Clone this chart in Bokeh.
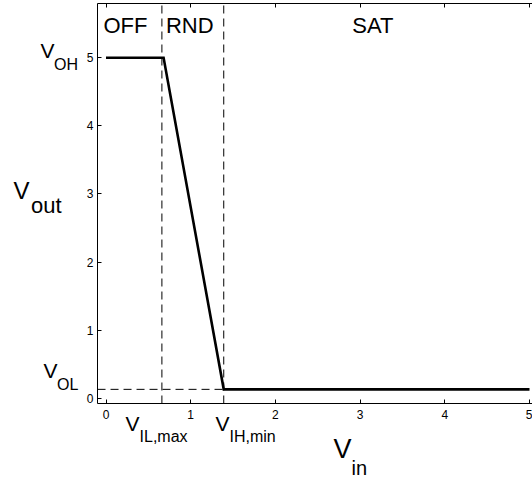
from bokeh.plotting import figure
from bokeh.models import Range1d, LinearAxis, FixedTicker, Label, CustomJSTickFormatter
from bokeh.embed import file_html
from bokeh.resources import INLINE

# ---- data ----
vin = [0.0, 0.68, 1.39, 5.0]
vout = [5.0, 5.0, 0.13, 0.13]
VIL = 0.66
VIH = 1.39
VOL = 0.13
VOH = 5.0
x_ticks = [0, 1, 2, 3, 4, 5]
y_ticks = [0, 1, 2, 3, 4, 5]
regions = ["OFF", "RND", "SAT"]

# axes box (data limits of the drawn box)
BOX_L, BOX_R = -0.1, 5.035
BOX_B, BOX_T = -0.078, 5.796

FONT = "Liberation Sans"

p = figure(width=532, height=480,
           x_range=Range1d(-1.2456, 5.0354), y_range=Range1d(-1.2085, 5.840),
           output_backend="svg", toolbar_location=None,
           x_axis_location=None, y_axis_location=None,
           min_border=0)
p.outline_line_color = None
p.background_fill_color = "white"
p.border_fill_color = "white"
p.xgrid.grid_line_color = None
p.ygrid.grid_line_color = None


def mk_axis(ticks, standoff, loc, bounds, show_labels=True):
    ax = LinearAxis(ticker=FixedTicker(ticks=ticks),
                    fixed_location=loc, bounds=bounds,
                    major_tick_in=4, major_tick_out=0,
                    minor_tick_in=0, minor_tick_out=0,
                    axis_line_color="black", axis_line_width=1,
                    major_tick_line_color="black",
                    major_label_text_font=FONT,
                    major_label_text_font_size="12px",
                    major_label_text_color="black",
                    major_label_standoff=standoff)
    if not show_labels:
        ax.formatter = CustomJSTickFormatter(code="return ''")
    return ax


p.add_layout(mk_axis(x_ticks, 6, BOX_B, (BOX_L, BOX_R)), "below")
p.add_layout(mk_axis(y_ticks, 4, BOX_L, (BOX_B, BOX_T)), "left")
p.add_layout(mk_axis(x_ticks, 0, BOX_T, (BOX_L, BOX_R), show_labels=False), "above")

# dashed guide lines
p.segment(x0=[VIL, VIH], y0=[BOX_B, BOX_B], x1=[VIL, VIH], y1=[BOX_T, BOX_T],
          line_color="black", line_width=1, line_dash="8 5")
p.segment(x0=[BOX_L], y0=[VOL], x1=[VIH], y1=[VOL],
          line_color="black", line_width=1, line_dash="8 5")

# transfer curve
p.line(vin, vout, line_color="black", line_width=2.6, line_join="miter")


def lab(x, y, text, size):
    p.add_layout(Label(x=x, y=y, text=text, text_font=FONT,
                       text_font_size=size, text_color="black",
                       text_align="left", text_baseline="middle"))


# region names
region_x = [-0.03, 0.708, 2.907]
for name, rx in zip(regions, region_x):
    lab(rx, 5.473, name, "22px")


def vlabel(x_main, y_main, size_main, sub, x_sub, y_sub, size_sub):
    lab(x_main, y_main, "V", size_main)
    lab(x_sub, y_sub, sub, size_sub)


vlabel(-0.773, 5.111, "21px", "OH", -0.614, 4.894, "16px")
vlabel(-0.738, 0.412, "21px", "OL", -0.579, 0.195, "16px")
vlabel(-1.092, 3.055, "24px", "out", -0.885, 2.833, "22px")
vlabel(2.686, -0.751, "27px", "in", 2.898, -1.032, "20px")
vlabel(0.230, -0.366, "21px", "IL,max", 0.396, -0.568, "16px")
vlabel(1.293, -0.366, "21px", "IH,min", 1.458, -0.568, "16px")

open("out.html", "w").write(file_html(p, INLINE))
